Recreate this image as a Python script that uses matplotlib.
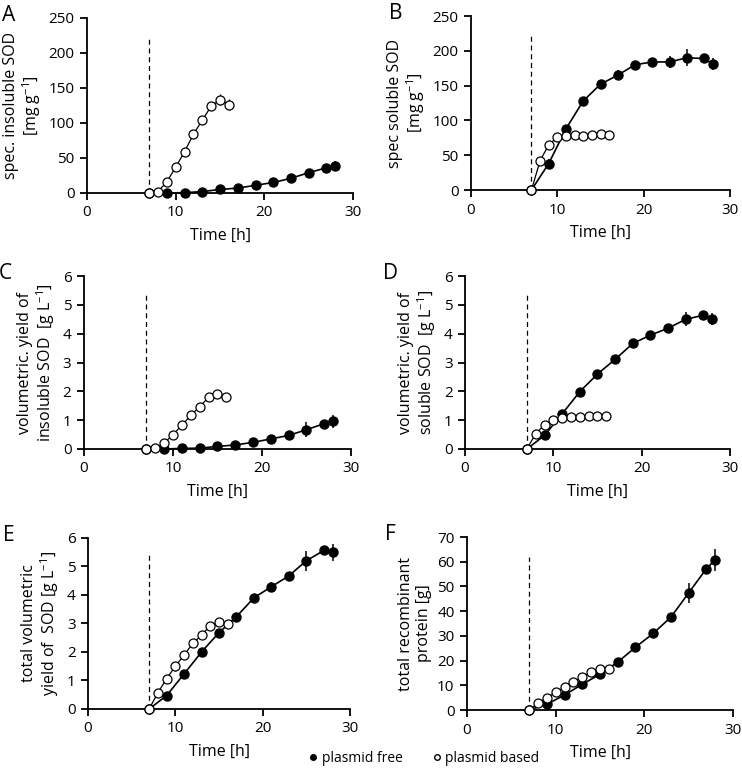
import matplotlib
matplotlib.use("Agg")
import matplotlib.pyplot as plt
from matplotlib.lines import Line2D

plt.rcParams['font.family'] = ['Open Sans', 'DejaVu Sans']
plt.rcParams['mathtext.fontset'] = 'custom'
plt.rcParams['mathtext.rm'] = 'Open Sans'

# sampling times
t_free = [7, 9, 11, 13, 15, 17, 19, 21, 23, 25, 27, 28]
t_based = [7, 8, 9, 10, 11, 12, 13, 14, 15, 16]

# A: spec. insoluble SOD
a_free = [0, 0, 0.5, 2, 5, 7, 11, 15, 21, 29, 36, 39]
a_free_err = [0, 0, 0, 0, 1, 1, 1, 1, 2, 4, 5, 6]
a_based = [0, 2, 16, 37, 59, 84, 104, 124, 133, 126]
a_based_err = [0, 0, 1, 1, 1, 1, 1, 2, 8, 8]

# B: spec soluble SOD
b_free = [0, 38, 88, 128, 152, 165, 180, 184, 184, 190, 189, 181]
b_free_err = [0, 7, 3, 6, 3, 7, 3, 6, 9, 12, 3, 9]
b_based = [0, 42, 65, 76, 77, 79, 77, 79, 80, 79]
b_based_err = [0, 1, 1, 1, 1, 1, 1, 1, 1, 1]

# C: volumetric yield of insoluble SOD
c_free = [0, 0, 0.02, 0.03, 0.09, 0.14, 0.23, 0.35, 0.47, 0.67, 0.88, 0.96]
c_free_err = [0, 0, 0, 0, 0.02, 0.02, 0.03, 0.03, 0.04, 0.25, 0.08, 0.22]
c_based = [0, 0.03, 0.2, 0.5, 0.82, 1.17, 1.47, 1.79, 1.9, 1.82]
c_based_err = [0, 0, 0.02, 0.02, 0.02, 0.03, 0.03, 0.03, 0.05, 0.05]

# D: volumetric yield of soluble SOD
d_free = [0, 0.47, 1.22, 1.99, 2.6, 3.11, 3.66, 3.95, 4.19, 4.5, 4.64, 4.5]
d_free_err = [0, 0.05, 0.05, 0.05, 0.05, 0.05, 0.05, 0.08, 0.05, 0.25, 0.05, 0.2]
d_based = [0, 0.53, 0.84, 0.99, 1.07, 1.1, 1.1, 1.13, 1.15, 1.15]
d_based_err = [0, 0.02, 0.03, 0.03, 0.03, 0.03, 0.03, 0.03, 0.03, 0.03]

# E: total volumetric yield of SOD
e_free = [0, 0.47, 1.23, 2.0, 2.68, 3.24, 3.9, 4.29, 4.67, 5.2, 5.56, 5.5]
e_free_err = [0, 0.05, 0.05, 0.05, 0.05, 0.05, 0.05, 0.15, 0.08, 0.35, 0.05, 0.3]
e_based = [0, 0.57, 1.06, 1.5, 1.89, 2.3, 2.59, 2.92, 3.06, 2.98]
e_based_err = [0, 0.02, 0.03, 0.15, 0.05, 0.03, 0.03, 0.03, 0.1, 0.15]

# F: total recombinant protein
f_free = [0, 2.3, 6.1, 10.4, 14.5, 19.4, 25.4, 31, 37.6, 47.4, 57.2, 60.8]
f_free_err = [0, 0.3, 0.5, 0.5, 0.5, 0.5, 0.5, 0.8, 0.8, 4, 1.5, 4.5]
f_based = [0, 2.7, 5, 7.1, 9.2, 11.3, 13.3, 15.5, 16.7, 16.7]
f_based_err = [0, 0.2, 0.3, 0.3, 0.3, 0.3, 0.3, 0.3, 0.4, 0.4]

panels = [
    ('A', [0.1173, 0.7529, 0.3585, 0.2241], 250, 50, 223,
     'spec. insoluble SOD\n[mg g$^{\\mathregular{-1}}$]',
     a_free, a_free_err, a_based, a_based_err),
    ('B', [0.6348, 0.7567, 0.3490, 0.2228], 250, 50, 223,
     'spec soluble SOD\n[mg g$^{\\mathregular{-1}}$]',
     b_free, b_free_err, b_based, b_based_err),
    ('C', [0.1132, 0.4251, 0.3598, 0.2215], 6, 1, 5.4,
     'volumetric. yield of\ninsoluble SOD  [g L$^{\\mathregular{-1}}$]',
     c_free, c_free_err, c_based, c_based_err),
    ('D', [0.6267, 0.4251, 0.3571, 0.2215], 6, 1, 5.4,
     'volumetric. yield of\nsoluble SOD  [g L$^{\\mathregular{-1}}$]',
     d_free, d_free_err, d_based, d_based_err),
    ('E', [0.1186, 0.0922, 0.3531, 0.2190], 6, 1, 5.4,
     'total volumetric\nyield of  SOD [g L$^{\\mathregular{-1}}$]',
     e_free, e_free_err, e_based, e_based_err),
    ('F', [0.6294, 0.0909, 0.3585, 0.2215], 70, 10, 62,
     'total recombinant\nprotein [g]',
     f_free, f_free_err, f_based, f_based_err),
]

fig = plt.figure(figsize=(7.42, 7.81), dpi=100)

for letter, pos, ymax, ystep, dash_top, ylabel, yf, ef, yb, eb in panels:
    ax = fig.add_axes(pos)
    ax.plot([7, 7], [0, dash_top], color='black', linestyle='--', linewidth=0.9, dashes=(4, 3))
    ax.errorbar(t_free, yf, yerr=ef, color='black', linewidth=1.2, marker='o',
                markersize=6.5, markerfacecolor='black', markeredgecolor='black',
                elinewidth=1.1, capsize=0, zorder=3)
    ax.errorbar(t_based, yb, yerr=eb, color='black', linewidth=0.9, marker='o',
                markersize=6.5, markerfacecolor='white', markeredgecolor='black',
                markeredgewidth=0.9, elinewidth=0.9, capsize=0, zorder=4)
    ax.set_xlim(0, 30)
    ax.set_ylim(0, ymax)
    ax.set_xticks([0, 10, 20, 30])
    ax.set_yticks(range(0, ymax + 1, ystep))
    ax.spines['top'].set_visible(False)
    ax.spines['right'].set_visible(False)
    ax.spines['left'].set_linewidth(1.3)
    ax.spines['bottom'].set_linewidth(1.3)
    ax.tick_params(direction='out', length=5, width=1.3, labelsize=11, pad=4)
    ax.set_xlabel('Time [h]', fontsize=11.5, labelpad=5)
    ax.set_ylabel(ylabel, fontsize=11.5, linespacing=1.1)
    for art in ax.lines + ax.collections:
        art.set_clip_on(False)
    fig.text(pos[0] - 0.115 if letter in 'ACE' else pos[0] - 0.11, pos[1] + pos[3] + 0.003,
             letter, fontsize=15, va='center', ha='left')

handles = [
    Line2D([], [], linestyle='none', marker='o', markersize=4,
           markerfacecolor='black', markeredgecolor='black'),
    Line2D([], [], linestyle='none', marker='o', markersize=4,
           markerfacecolor='white', markeredgecolor='black'),
]
fig.legend(handles, ['plasmid free', 'plasmid based'], loc='center',
           bbox_to_anchor=(0.57, 0.029), ncol=2, frameon=False, fontsize=10,
           handletextpad=0.1, columnspacing=2.0, handlelength=1.0)

fig.savefig('out.png', dpi=100)
